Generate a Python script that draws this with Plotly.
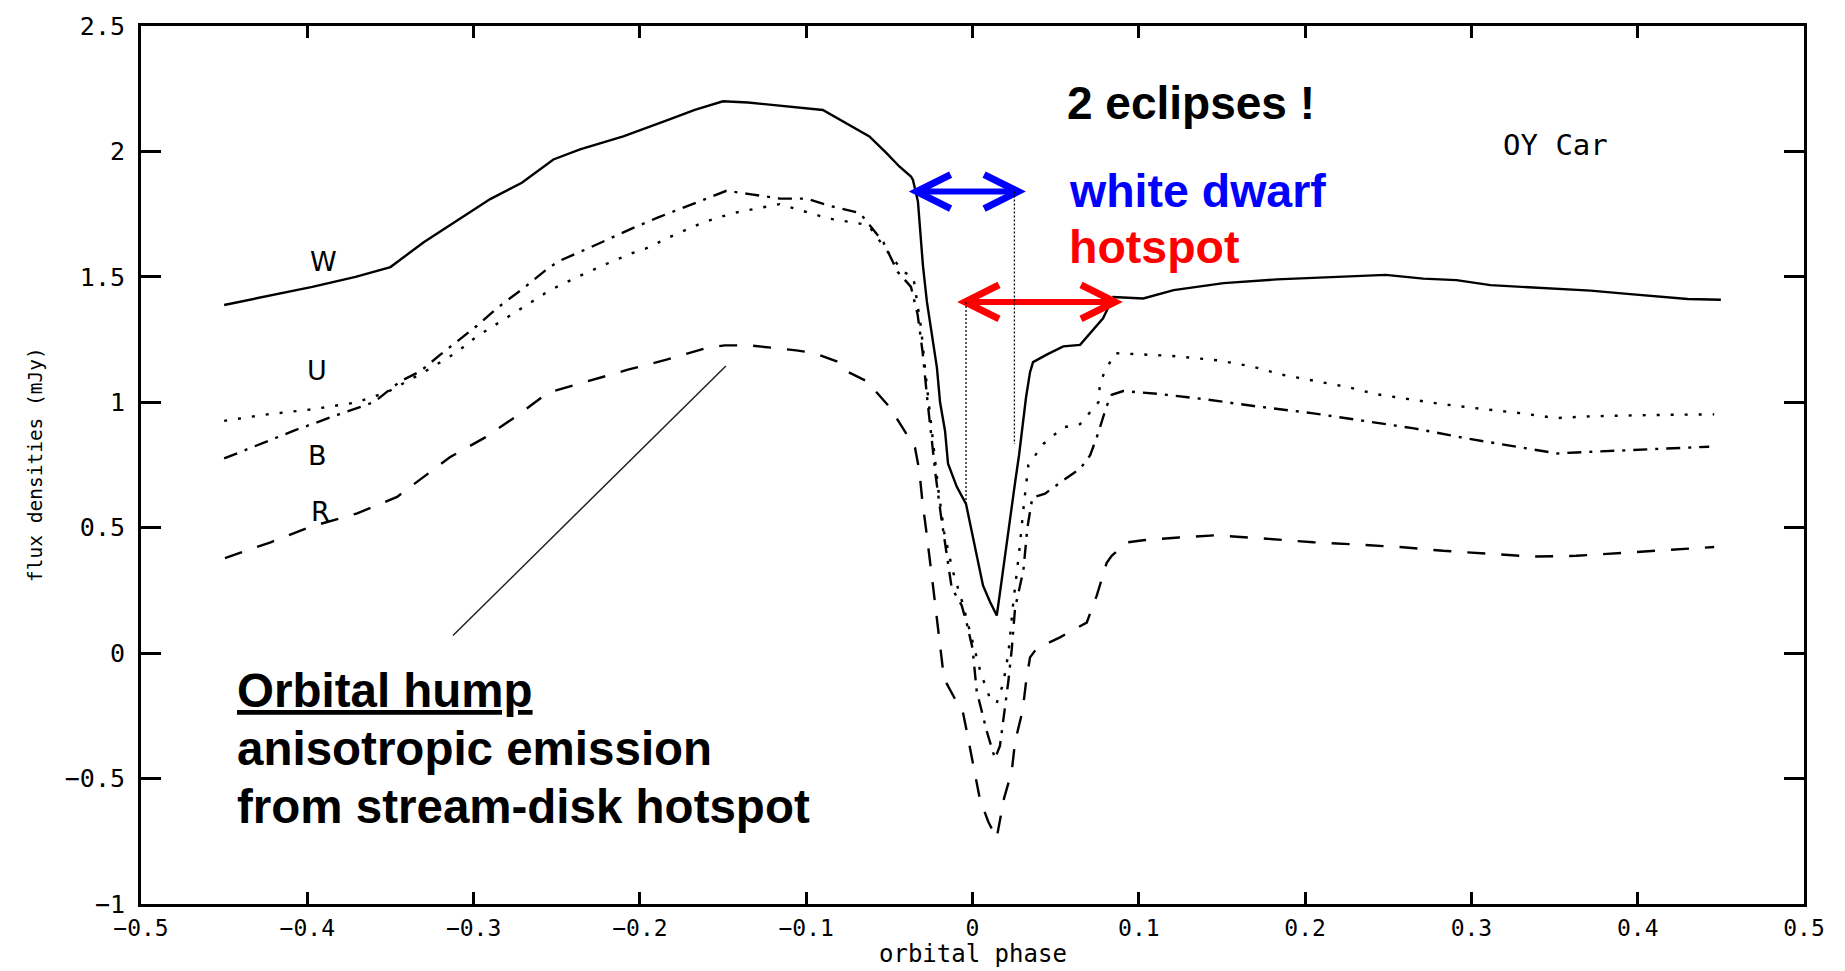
import plotly.graph_objects as go

# ---------------- data ----------------
W_x = [-0.450, -0.424, -0.397, -0.371, -0.350, -0.330, -0.309, -0.290, -0.271, -0.252,
       -0.236, -0.210, -0.183, -0.167, -0.150, -0.135, -0.090, -0.075, -0.062, -0.052,
       -0.044, -0.037, -0.0358, -0.0328, -0.0298, -0.0274, -0.0244, -0.0214, -0.0195, -0.0165,
       -0.0147, -0.0095, -0.0039, -0.0015, 0.0005, 0.0029, 0.0063, 0.0105, 0.0146, 0.0165,
       0.0185, 0.0206, 0.0230, 0.0256, 0.0280, 0.0300, 0.0322, 0.0346, 0.0364, 0.0446,
       0.0546, 0.0647, 0.0785, 0.0847, 0.1027, 0.121, 0.151, 0.183, 0.214, 0.2485,
       0.271, 0.291, 0.3115, 0.3316, 0.3515, 0.3717, 0.392, 0.410, 0.430, 0.450]
W_y = [1.388, 1.424, 1.460, 1.500, 1.539, 1.638, 1.730, 1.810, 1.875, 1.968,
       2.008, 2.060, 2.126, 2.166, 2.200, 2.195, 2.165, 2.110, 2.060, 1.995,
       1.940, 1.900, 1.886, 1.800, 1.545, 1.400, 1.270, 1.138, 1.000, 0.885,
       0.755, 0.664, 0.595, 0.520, 0.450, 0.370, 0.270, 0.205, 0.150, 0.240,
       0.340, 0.450, 0.550, 0.680, 0.790, 0.900, 1.020, 1.120, 1.160, 1.190,
       1.223, 1.229, 1.335, 1.420, 1.414, 1.447, 1.475, 1.490, 1.499, 1.508,
       1.493, 1.487, 1.467, 1.460, 1.452, 1.445, 1.433, 1.422, 1.412, 1.409]

U_x = [-0.450, -0.424, -0.397, -0.371, -0.352, -0.330, -0.310, -0.2986, -0.2766, -0.2543,
       -0.2387, -0.2221, -0.205, -0.196, -0.180, -0.162, -0.144, -0.116, -0.0867, -0.0628,
       -0.0516, -0.0416, -0.0356, -0.031, -0.028, -0.0236, -0.0205, -0.017, -0.012, -0.006,
       0.000, 0.005, 0.0105, 0.0145, 0.0185, 0.0216, 0.0245, 0.028, 0.031, 0.0336,
       0.0426, 0.0546, 0.0647, 0.0707, 0.0757, 0.0767, 0.0797, 0.0857, 0.1196, 0.148,
       0.168, 0.186, 0.205, 0.226, 0.243, 0.263, 0.283, 0.306, 0.329, 0.351,
       0.371, 0.406, 0.446]
U_y = [0.926, 0.952, 0.972, 0.999, 1.040, 1.120, 1.200, 1.260, 1.352, 1.446,
       1.496, 1.546, 1.594, 1.614, 1.665, 1.717, 1.754, 1.790, 1.733, 1.707,
       1.605, 1.520, 1.500, 1.300, 1.100, 0.850, 0.650, 0.480, 0.330, 0.200,
       0.050, -0.080, -0.180, -0.200, -0.120, 0.000, 0.200, 0.400, 0.600, 0.750,
       0.834, 0.900, 0.913, 0.960, 1.000, 1.078, 1.124, 1.196, 1.185, 1.167,
       1.143, 1.110, 1.087, 1.060, 1.032, 1.012, 0.992, 0.974, 0.957, 0.937,
       0.944, 0.949, 0.952]

B_x = [-0.450, -0.430, -0.408, -0.381, -0.360, -0.344, -0.332, -0.320, -0.310, -0.298,
       -0.286, -0.269, -0.257, -0.249, -0.231, -0.218, -0.204, -0.189, -0.176, -0.164,
       -0.148, -0.134, -0.1158, -0.0997, -0.0857, -0.0677, -0.0536, -0.045, -0.037, -0.033,
       -0.030, -0.027, -0.0245, -0.022, -0.019, -0.0165, -0.0125, -0.0065, -0.0035, 0.000,
       0.0025, 0.0085, 0.0135, 0.0165, 0.019, 0.0216, 0.0236, 0.0256, 0.0306, 0.033,
       0.036, 0.0436, 0.0546, 0.0647, 0.0707, 0.0747, 0.0807, 0.0837, 0.0907, 0.111,
       0.140, 0.168, 0.205, 0.234, 0.2655, 0.297, 0.329, 0.3515, 0.363, 0.392,
       0.420, 0.443]
B_y = [0.776, 0.830, 0.887, 0.952, 1.000, 1.084, 1.124, 1.190, 1.243, 1.305,
       1.375, 1.460, 1.525, 1.562, 1.614, 1.654, 1.695, 1.737, 1.770, 1.803,
       1.843, 1.830, 1.812, 1.812, 1.783, 1.754, 1.638, 1.520, 1.460, 1.350,
       1.200, 1.000, 0.850, 0.700, 0.550, 0.430, 0.260, 0.190, 0.120, 0.020,
       -0.150, -0.310, -0.420, -0.370, -0.250, -0.110, 0.015, 0.180, 0.330, 0.500,
       0.620, 0.636, 0.689, 0.735, 0.788, 0.860, 0.985, 1.030, 1.045, 1.034,
       1.012, 0.986, 0.956, 0.926, 0.896, 0.856, 0.820, 0.796, 0.800, 0.808,
       0.815, 0.823]

R_x = [-0.4495, -0.4225, -0.398, -0.370, -0.346, -0.330, -0.3143, -0.293, -0.274, -0.2553,
       -0.2313, -0.2072, -0.184, -0.160, -0.149, -0.134, -0.106, -0.0957, -0.0817, -0.0757,
       -0.0636, -0.0496, -0.0396, -0.0346, -0.032, -0.030, -0.028, -0.0256, -0.0236, -0.0215,
       -0.0191, -0.0171, -0.0095, -0.0059, -0.0035, 0.0005, 0.0045, 0.0095, 0.0145, 0.019,
       0.0236, 0.0256, 0.0302, 0.0322, 0.0346, 0.0386, 0.0526, 0.0687, 0.0747, 0.0807,
       0.0837, 0.0927, 0.1026, 0.124, 0.1465, 0.177, 0.205, 0.231, 0.257, 0.283,
       0.3115, 0.337, 0.363, 0.392, 0.420, 0.446]
R_y = [0.379, 0.441, 0.504, 0.557, 0.623, 0.702, 0.781, 0.860, 0.946, 1.038,
       1.084, 1.130, 1.170, 1.216, 1.227, 1.227, 1.207, 1.197, 1.163, 1.124,
       1.084, 0.979, 0.873, 0.820, 0.728, 0.597, 0.498, 0.379, 0.260, 0.142,
       0.014, -0.102, -0.195, -0.231, -0.310, -0.448, -0.584, -0.672, -0.738, -0.578,
       -0.471, -0.353, -0.227, -0.115, -0.017, 0.019, 0.063, 0.122, 0.229, 0.360,
       0.388, 0.441, 0.450, 0.461, 0.470, 0.456, 0.442, 0.433, 0.423, 0.408,
       0.397, 0.385, 0.388, 0.400, 0.410, 0.423]

x_ticks = [-0.5, -0.4, -0.3, -0.2, -0.1, 0, 0.1, 0.2, 0.3, 0.4, 0.5]
x_tick_text = ["\u22120.5", "\u22120.4", "\u22120.3", "\u22120.2", "\u22120.1", "0",
               "0.1", "0.2", "0.3", "0.4", "0.5"]
y_ticks = [-1, -0.5, 0, 0.5, 1, 1.5, 2, 2.5]
y_tick_text = ["\u22121", "\u22120.5", "0", "0.5", "1", "1.5", "2", "2.5"]

series_names = ["W", "U", "B", "R"]
label_pos = [(-0.390, 1.56), (-0.394, 1.127), (-0.394, 0.787), (-0.392, 0.564)]

# eclipse markers: [x_start, x_end, y]
wd_arrow = [-0.0336, 0.0274, 1.84]
hs_arrow = [-0.0045, 0.0857, 1.40]
wd_contact_line = [0.0252, 1.84, 0.834]   # x, y top, y bottom
hs_contact_line = [-0.0039, 1.40, 0.595]
pointer_line = [-0.3124, 0.07, -0.1483, 1.145]

# ---------------- figure ----------------
MONO = "DejaVu Sans Mono, monospace"
SANS = "Liberation Sans, Arial, sans-serif"

fig = go.Figure()
styles = [
    ("solid", W_x, W_y),
    ("3px,11px", U_x, U_y),
    ("14px,8px,3px,8px", B_x, B_y),
    ("18px,16px", R_x, R_y),
]
for name, (dash, xs, ys) in zip(series_names, styles):
    fig.add_trace(go.Scatter(x=xs, y=ys, mode="lines", name=name,
                             line=dict(color="black", width=2.4, dash=dash),
                             showlegend=False, hoverinfo="skip"))

shapes = []
def double_arrow(xl, xr, y, color):
    shapes.append(dict(type="line", xref="x", yref="y", x0=xl, x1=xr, y0=y, y1=y,
                       line=dict(color=color, width=6)))
    for xa, sgn in ((xl, 1), (xr, -1)):
        shapes.append(dict(type="path", xref="x", yref="y",
                           xsizemode="pixel", xanchor=xa,
                           ysizemode="pixel", yanchor=y,
                           path=f"M{34*sgn},17 L0,0 L{34*sgn},-17",
                           line=dict(color=color, width=7)))

double_arrow(wd_arrow[0], wd_arrow[1], wd_arrow[2], "#0000ff")
double_arrow(hs_arrow[0], hs_arrow[1], hs_arrow[2], "#ff0000")
for xl, yt, yb in (wd_contact_line, hs_contact_line):
    shapes.append(dict(type="line", xref="x", yref="y", x0=xl, x1=xl, y0=yt, y1=yb,
                       line=dict(color="black", width=1.3, dash="2px,2px")))
shapes.append(dict(type="line", xref="x", yref="y",
                   x0=pointer_line[0], y0=pointer_line[1],
                   x1=pointer_line[2], y1=pointer_line[3],
                   line=dict(color="#222222", width=1.5)))

annotations = []
for name, (lx, ly) in zip(series_names, label_pos):
    annotations.append(dict(x=lx, y=ly, xref="x", yref="y", text=name, showarrow=False,
                            font=dict(family="DejaVu Sans, sans-serif", size=27, color="black")))

annotations += [
    dict(x=0.0556, y=2.193, xref="x", yref="y", text="<b>2 eclipses !</b>", showarrow=False,
         xanchor="left", yanchor="middle", font=dict(family=SANS, size=46, color="black")),
    dict(x=0.0568, y=1.842, xref="x", yref="y", text="<b>white dwarf</b>", showarrow=False,
         xanchor="left", yanchor="middle", font=dict(family=SANS, size=46.5, color="#0000ff")),
    dict(x=0.0568, y=1.621, xref="x", yref="y", text="<b>hotspot</b>", showarrow=False,
         xanchor="left", yanchor="middle", font=dict(family=SANS, size=46.5, color="#ff0000")),
    dict(x=0.3503, y=2.024, xref="x", yref="y", text="OY Car", showarrow=False,
         xanchor="center", yanchor="middle", font=dict(family=MONO, size=29, color="black")),
    dict(x=-0.4435, y=-0.147, xref="x", yref="y", text="<b><u>Orbital hump</u></b>", showarrow=False,
         xanchor="left", yanchor="middle", font=dict(family=SANS, size=47.5, color="black")),
    dict(x=-0.4435, y=-0.381, xref="x", yref="y", text="<b>anisotropic emission</b>", showarrow=False,
         xanchor="left", yanchor="middle", font=dict(family=SANS, size=47.5, color="black")),
    dict(x=-0.4435, y=-0.611, xref="x", yref="y", text="<b>from stream-disk hotspot</b>", showarrow=False,
         xanchor="left", yanchor="middle", font=dict(family=SANS, size=47.5, color="black")),
    dict(x=0, y=0.5, xref="paper", yref="paper", xshift=-106, text="flux densities (mJy)",
         textangle=-90, showarrow=False, xanchor="center", yanchor="middle",
         font=dict(family=MONO, size=19.5, color="black")),
    dict(x=0.5, y=0, xref="paper", yref="paper", yshift=-50, text="orbital phase",
         showarrow=False, xanchor="center", yanchor="middle",
         font=dict(family=MONO, size=24, color="black")),
]

axis_common = dict(showline=True, linewidth=3, linecolor="black", mirror="ticks",
                   ticks="inside", tickwidth=2.5, tickcolor="black",
                   showgrid=False, zeroline=False)

fig.update_layout(
    width=1845, height=971,
    margin=dict(l=141, r=41, t=19, b=67),
    paper_bgcolor="white", plot_bgcolor="white",
    xaxis=dict(range=[-0.5, 0.5], tickvals=x_ticks, ticktext=x_tick_text, ticklen=12,
               ticklabelstandoff=1, tickfont=dict(family=MONO, size=23, color="black"),
               **axis_common),
    yaxis=dict(range=[-1, 2.5], tickvals=y_ticks, ticktext=y_tick_text, ticklen=20,
               ticklabelstandoff=8, tickfont=dict(family=MONO, size=25, color="black"),
               **axis_common),
    shapes=shapes,
    annotations=annotations,
)

fig.write_html("out.html")
